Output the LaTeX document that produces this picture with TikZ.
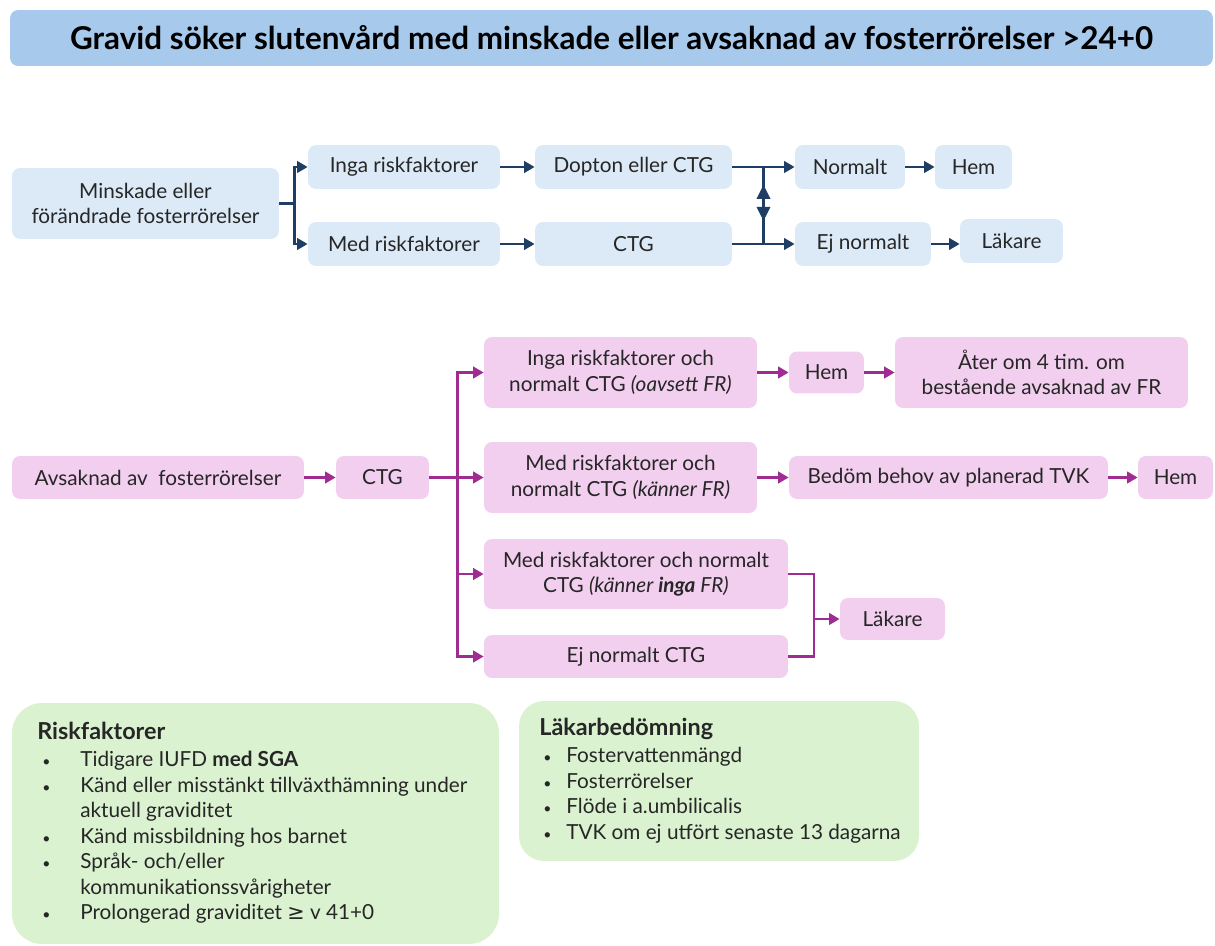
\documentclass[tikz,border=0pt]{standalone}
\usepackage{fontspec}
\setmainfont{Lato}
\newfontfamily\symfont{DejaVu Sans}
\usetikzlibrary{arrows.meta,calc}

\definecolor{titleblue}{HTML}{A6C9EC}
\definecolor{boxblue}{HTML}{DCE9F6}
\definecolor{boxpink}{HTML}{F2CEEF}
\definecolor{boxgreen}{HTML}{DAF2D0}
\definecolor{navy}{HTML}{1F3E64}
\definecolor{plum}{HTML}{A02B93}
\definecolor{txt}{HTML}{262626}

\newcommand{\smallbul}{{\fontsize{8}{8}\selectfont\textbullet}}
\newcommand{\riskbul}{\makebox[0.86cm][l]{\hspace{0.1cm}\smallbul}}
\newcommand{\riskgap}{\hspace{0.86cm}}
\newcommand{\lakbul}{\makebox[0.54cm][l]{\hspace{0.08cm}\smallbul}}

\tikzset{
  bluebox/.style={fill=boxblue, rounded corners=0.16cm, align=center, inner sep=0pt},
  pinkbox/.style={fill=boxpink, rounded corners=0.16cm, align=center, inner sep=0pt},
  greenbox/.style={fill=boxgreen, rounded corners=0.6cm, inner sep=0pt},
  navyline/.style={draw=navy, line width=1.6pt},
  navyarrow/.style={navyline, -{Triangle[length=6pt,width=6.5pt]}},
  plumline/.style={draw=plum, line width=1.6pt},
  plumarrow/.style={plumline, -{Triangle[length=6pt,width=6.5pt]}}
}

\begin{document}
\begin{tikzpicture}[x=0.02cm,y=-0.02cm, font=\fontsize{11.8}{14.5}\selectfont, text=txt]
\useasboundingbox (0,0) rectangle (1215,946);

% title
\node[fill=titleblue, rounded corners=0.16cm, minimum width=24.06cm, minimum height=1.12cm,
  font=\fontsize{17.9}{20}\selectfont\bfseries, text=black] (title) at (611.5,38)
  {Gravid söker slutenvård med minskade eller avsaknad av fosterrörelser >24+0};

% minskade fosterrorelser
\node[bluebox, minimum width=5.34cm, minimum height=1.42cm] (minsk) at (145.5,203.5) {Minskade eller\\förändrade fosterrörelser};
\node[bluebox, minimum width=3.84cm, minimum height=0.88cm] (inga) at (404,167) {Inga riskfaktorer};
\node[bluebox, minimum width=3.84cm, minimum height=0.88cm] (med) at (404,244) {Med riskfaktorer};
\node[bluebox, minimum width=3.94cm, minimum height=0.88cm] (dop) at (633.5,167) {Dopton eller CTG};
\node[bluebox, minimum width=3.94cm, minimum height=0.88cm] (ctgA) at (633.5,244) {CTG};
\node[bluebox, minimum width=2.2cm, minimum height=0.88cm] (norm) at (850,167) {Normalt};
\node[bluebox, minimum width=1.54cm, minimum height=0.88cm] (hemA) at (973.5,167) {Hem};
\node[bluebox, minimum width=2.72cm, minimum height=0.88cm] (ejn) at (863,244) {Ej normalt};
\node[bluebox, minimum width=2.06cm, minimum height=0.88cm] (lakA) at (1011.5,241) {Läkare};

\draw[navyline] (minsk.east) -- ++(15,0) coordinate (splitA);
\draw[navyarrow] (splitA) |- (inga.west);
\draw[navyarrow] (splitA) |- (med.west);
\draw[navyarrow] (inga) -- (dop);
\draw[navyarrow] (med) -- (ctgA);
\draw[navyarrow] (dop) -- (norm);
\draw[navyarrow] (ctgA) -- (ejn);
\coordinate (vtop) at ($(dop.east)!0.5!(norm.west)$);
\coordinate (vbot) at ($(ctgA.east)!0.5!(ejn.west)$);
\draw[navyline] (vtop) -- (vbot);
\draw[navyline, {Triangle[length=8pt,width=7.5pt]}-{Triangle[length=8pt,width=7.5pt]}]
  ($(vtop)!0.23!(vbot)$) -- ($(vtop)!0.70!(vbot)$);
\draw[navyarrow] (norm) -- (hemA);
\draw[navyarrow] (ejn.east) -- (ejn.east -| lakA.west);

% avsaknad av fosterrorelser
\node[pinkbox, minimum width=5.84cm, minimum height=0.86cm] (avs) at (158,477.5) {Avsaknad av\ \ fosterrörelser};
\node[pinkbox, minimum width=1.86cm, minimum height=0.86cm] (ctgB) at (382.5,477.5) {CTG};
\node[pinkbox, minimum width=5.46cm, minimum height=1.42cm] (ingaB) at (620.5,372.5) {Inga riskfaktorer och\\normalt CTG \textit{(oavsett FR)}};
\node[pinkbox, minimum width=1.5cm, minimum height=0.84cm] (hemB) at (826.5,372.5) {Hem};
\node[pinkbox, minimum width=5.86cm, minimum height=1.42cm] (ater) at (1041.5,372.5) {Åter om 4 tim. om\\bestående avsaknad av FR};
\node[pinkbox, minimum width=5.46cm, minimum height=1.42cm] (medB) at (620.5,477.5) {Med riskfaktorer och\\normalt CTG \textit{(känner FR)}};
\node[pinkbox, minimum width=6.38cm, minimum height=0.86cm] (bedom) at (948.5,477.5) {Bedöm behov av planerad TVK};
\node[pinkbox, minimum width=1.5cm, minimum height=0.86cm] (hemC) at (1175.5,477.5) {Hem};
\node[pinkbox, minimum width=6.08cm, minimum height=1.4cm] (medC) at (636,574) {Med riskfaktorer och normalt\\CTG \textit{(känner \textbf{inga} FR)}};
\node[pinkbox, minimum width=6.08cm, minimum height=0.86cm] (ejB) at (636,656.5) {Ej normalt CTG};
\node[pinkbox, minimum width=2.1cm, minimum height=0.84cm] (lakB) at (892.5,619) {Läkare};

\draw[plumarrow] (avs) -- (ctgB);
\draw[plumline] (ctgB.east) -- ++(28,0) coordinate (splitB);
\draw[plumarrow] (splitB) |- (ingaB.west);
\draw[plumarrow] (splitB) -- (medB.west);
\draw[plumarrow] (splitB) |- (medC.west);
\draw[plumarrow] (splitB) |- (ejB.west);
\draw[plumarrow] (ingaB) -- (hemB);
\draw[plumarrow] (hemB) -- (ater);
\draw[plumarrow] (medB) -- (bedom);
\draw[plumarrow] (bedom) -- (hemC);
\coordinate (mergeB) at ($(medC.east)!0.5!(lakB.west)$);
\draw[plumline] (medC.east) -- (medC.east -| mergeB) -- (ejB.east -| mergeB) -- (ejB.east);
\draw[plumarrow] (mergeB |- lakB) -- (lakB.west);

% rutor med listor
\node[greenbox, minimum width=9.74cm, minimum height=4.82cm] (riskbox) at (255.5,823.5) {};
\node[anchor=north west, inner sep=0pt, align=left] (risktext) at (37,722)
  {{\fontsize{13.3}{16}\selectfont\bfseries Riskfaktorer}\\[1pt]
   \riskbul Tidigare IUFD \textbf{med SGA}\\
   \riskbul Känd eller misstänkt tillväxthämning under\\
   \riskgap aktuell graviditet\\
   \riskbul Känd missbildning hos barnet\\
   \riskbul Språk- och/eller\\
   \riskgap kommunikationssvårigheter\\
   \riskbul Prolongerad graviditet {\symfont ≥} v 41+0};

\node[greenbox, rounded corners=0.5cm, minimum width=8cm, minimum height=3.2cm] (lakbox) at (719,781) {};
\node[anchor=north west, inner sep=0pt, align=left] (laktext) at (539,718)
  {{\fontsize{13.3}{16}\selectfont\bfseries Läkarbedömning}\\[1pt]
   \lakbul Fostervattenmängd\\
   \lakbul Fosterrörelser\\
   \lakbul Flöde i a.umbilicalis\\
   \lakbul TVK om ej utfört senaste 13 dagarna};
\end{tikzpicture}
\end{document}
